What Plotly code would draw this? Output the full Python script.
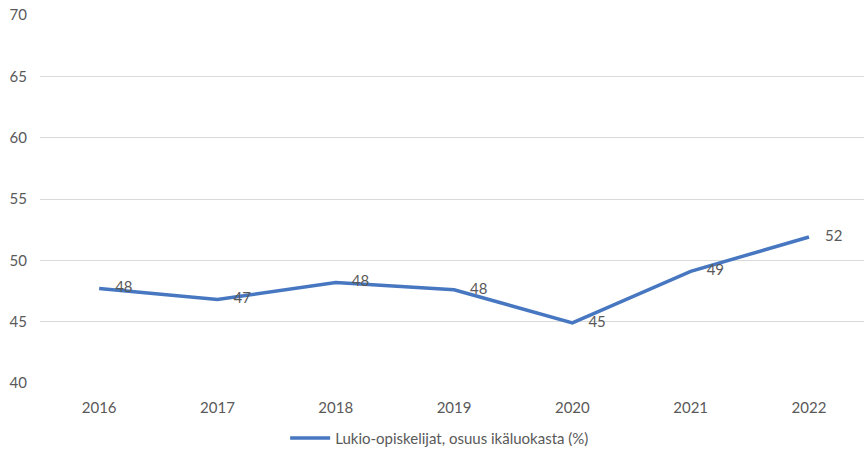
import plotly.graph_objects as go

years = ["2016", "2017", "2018", "2019", "2020", "2021", "2022"]
share = [47.7, 46.8, 48.2, 47.6, 44.9, 49.1, 51.9]
labels = ["48", "47", "48", "48", "45", "49", "52"]
series_name = "Lukio-opiskelijat, osuus ikäluokasta (%)"

FONT = "Lato, 'Open Sans', sans-serif"
GRAY = "#595959"
BLUE = "#4677c0"

fig = go.Figure()
fig.add_trace(go.Scatter(
    x=years, y=share, name=series_name,
    mode="lines+markers+text",
    line=dict(color=BLUE, width=3.5),
    marker=dict(size=24, color="rgba(0,0,0,0)"),
    text=labels, textposition="middle right",
    textfont=dict(family=FONT, size=15, color=GRAY),
))

fig.update_layout(
    width=864, height=451,
    margin=dict(l=40, r=0, t=15, b=68, autoexpand=False),
    paper_bgcolor="white", plot_bgcolor="white",
    font=dict(family=FONT, size=15, color=GRAY),
    showlegend=True,
    legend=dict(orientation="h", x=0.485, xanchor="center", y=-0.15, yanchor="middle",
                font=dict(family=FONT, size=15, color=GRAY), itemwidth=40),
    xaxis=dict(type="category", range=[-0.5, 6.465], showgrid=False, zeroline=False,
               showline=False, ticks="", ticklabelstandoff=14, automargin=False,
               tickfont=dict(size=15, color=GRAY)),
    yaxis=dict(range=[40, 70], dtick=5, showgrid=True, gridcolor="#d9d9d9", gridwidth=1,
               zeroline=False, showline=False, ticks="", ticklabelstandoff=12, automargin=False,
               tickfont=dict(size=15, color=GRAY)),
)

fig.write_html("out.html")
